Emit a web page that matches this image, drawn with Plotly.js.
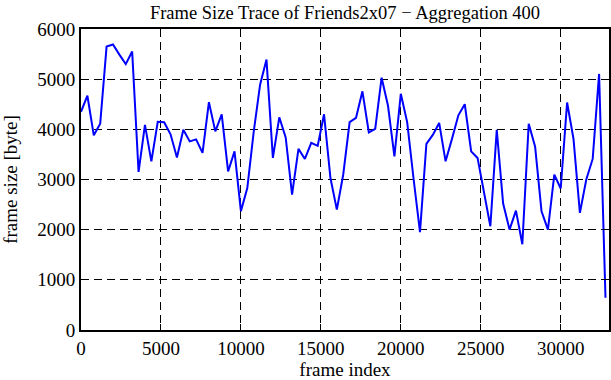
<!DOCTYPE html>
<html>
<head>
<meta charset="utf-8">
<script src="https://cdn.plot.ly/plotly-3.0.1.min.js"></script>
<style>html,body{margin:0;padding:0;background:#fff;}#chart{width:611px;height:380px;}</style>
</head>
<body>
<div id="chart"></div>
<script>
// Frame index step of the aggregated trace (400 frames per point)
const aggregation = 400;
// Aggregated frame sizes [byte]
const frameSizes = [
  4350, 4670, 3880, 4110, 5650, 5690, 5490, 5300, 5550, 3150,
  4090, 3360, 4150, 4140, 3900, 3440, 3990, 3760, 3800, 3530,
  4540, 3960, 4300, 3160, 3560, 2370, 2830, 3950, 4890, 5390,
  3430, 4240, 3840, 2700, 3610, 3410, 3730, 3670, 4300, 3030,
  2400, 3100, 4145, 4230, 4757, 3940, 4010, 5030, 4470, 3460,
  4708, 4140, 3010, 1950, 3710, 3890, 4127, 3363, 3810, 4280,
  4500, 3560, 3430, 2750, 2068, 3990, 2520, 2002, 2380, 1710,
  4110, 3655, 2367, 2002, 3098, 2820, 4535, 3810, 2335, 3000,
  3410, 5104, 641
];
const frameIndex = frameSizes.map((_, i) => i * aggregation);
const xTicks = [0, 5000, 10000, 15000, 20000, 25000, 30000];
const yTicks = [0, 1000, 2000, 3000, 4000, 5000, 6000];

const font = {family: '"Liberation Serif", "Times New Roman", serif', size: 19, color: '#000'};
const titleFont = Object.assign({}, font, {size: 18.5});

const trace = {
  x: frameIndex, y: frameSizes, type: 'scatter', mode: 'lines',
  line: {color: '#0000ff', width: 2}, hoverinfo: 'none'
};

const axisCommon = {
  showline: true, linecolor: '#000', linewidth: 2, mirror: 'ticks',
  ticks: 'inside', ticklen: 6, tickwidth: 1, tickcolor: '#000',
  showgrid: true, gridcolor: '#000', gridwidth: 1, griddash: '8px,5px',
  zeroline: false, tickfont: font, fixedrange: true
};

const layout = {
  width: 611, height: 380,
  margin: {l: 81, r: 2, t: 29, b: 50},
  paper_bgcolor: '#fff', plot_bgcolor: '#fff',
  showlegend: false,
  font: font,
  title: {text: 'Frame Size Trace of Friends2x07 \u2212 Aggregation 400', font: titleFont,
          xref: 'paper', x: 0.5, xanchor: 'center', y: 0.966, yanchor: 'middle'},
  xaxis: Object.assign({}, axisCommon, {
    range: [0, 33020], tickvals: xTicks, ticktext: xTicks.map(String),
    title: {text: 'frame index', font: font, standoff: 7}
  }),
  yaxis: Object.assign({}, axisCommon, {
    range: [0, 6000], tickvals: yTicks, ticktext: yTicks.map(String),
    title: {text: 'frame size [byte]', font: font, standoff: 15}
  })
};

Plotly.newPlot('chart', [trace], layout, {staticPlot: true, displayModeBar: false});
</script>
</body>
</html>
